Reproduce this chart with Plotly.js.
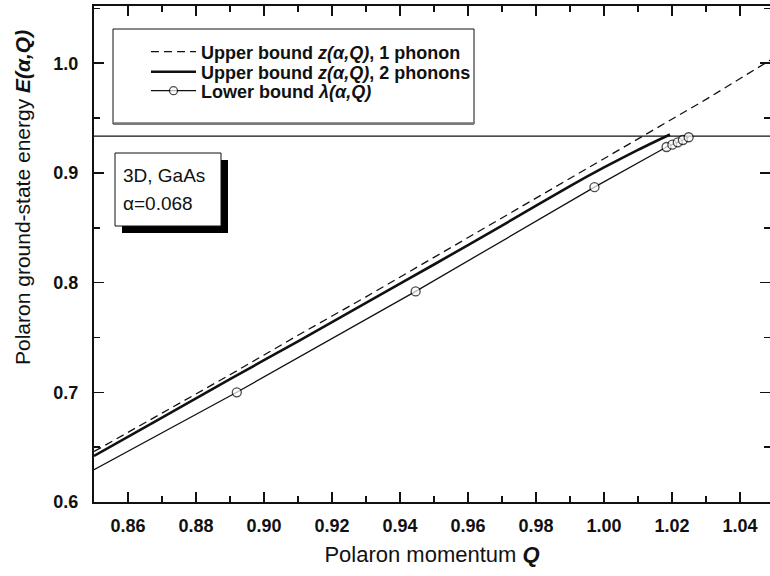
<!DOCTYPE html>
<html><head><meta charset="utf-8">
<script src="https://cdn.plot.ly/plotly-3.0.1.min.js"></script>
<style>html,body{margin:0;padding:0;background:#fff}</style>
</head><body>
<div id="chart" style="width:770px;height:576px"></div>
<script>
// Upper bound, 1 phonon (dashed)
const q1ph = [0.85, 0.87, 0.89, 0.91, 0.93, 0.95, 0.97, 0.99, 1.01, 1.03, 1.049];
const e1ph = [0.646, 0.681, 0.716, 0.752, 0.787, 0.823, 0.859, 0.895, 0.931, 0.967, 1.003];
// Upper bound, 2 phonons (thick solid)
const q2ph = [0.85, 0.87, 0.89, 0.91, 0.93, 0.95, 0.97, 0.99, 1.00, 1.01, 1.0194];
const e2ph = [0.642, 0.677, 0.712, 0.7465, 0.7815, 0.8165, 0.852, 0.888, 0.905, 0.921, 0.935];
// Lower bound (thin solid with open circles)
const qLow = [0.85, 0.892, 0.9446, 0.9972, 1.0184, 1.0201, 1.0217, 1.0232, 1.0249];
const eLow = [0.6295, 0.700, 0.792, 0.887, 0.9236, 0.9257, 0.9279, 0.9300, 0.9325];
const lowMarkerSize = [0, 9, 9, 9, 9, 9, 9, 9, 9];
// Threshold line
const qThr = [0.85, 1.06];
const eThr = [0.9335, 0.9335];

const xTickVals = [0.86, 0.88, 0.90, 0.92, 0.94, 0.96, 0.98, 1.00, 1.02, 1.04];
const yTickVals = [0.6, 0.7, 0.8, 0.9, 1.0];

const FONT = 'Liberation Sans, Arial, Helvetica, sans-serif';
const L = 94, T = 6, W = 676, H = 496;
const px = v => (v - L) / W;
const py = v => (T + H - v) / H;

const traces = [
  {x: qThr, y: eThr, mode: 'lines', line: {color: '#111', width: 1.2}, showlegend: false, hoverinfo: 'skip'},
  {x: q1ph, y: e1ph, mode: 'lines', name: '<b>Upper bound <i>z(α,Q)</i>, 1 phonon</b>',
   line: {color: '#111', width: 1.3, dash: '8px,5px'}, legend: 'legend'},
  {x: q2ph, y: e2ph, mode: 'lines', name: '<b>Upper bound <i>z(α,Q)</i>, 2 phonons</b>',
   line: {color: '#111', width: 2.6, shape: 'spline', smoothing: 0.6}, legend: 'legend2'},
  {x: qLow, y: eLow, mode: 'lines+markers', name: '<b>Lower bound <i>λ(α,Q)</i></b>',
   line: {color: '#111', width: 1.3},
   marker: {symbol: 'circle', size: lowMarkerSize, color: '#fff', line: {color: '#000', width: 1.3}},
   legend: 'legend3'}
];

const legendBase = (yc) => ({
  x: px(146), xanchor: 'left', y: py(yc), yanchor: 'middle',
  bgcolor: 'rgba(0,0,0,0)', borderwidth: 0, itemwidth: 45,
  font: {family: FONT, size: 18, color: '#111'}
});

const layout = {
  width: 770, height: 576,
  margin: {l: L, r: 0, t: T, b: 576 - T - H},
  paper_bgcolor: '#fff', plot_bgcolor: '#fff',
  font: {family: FONT, color: '#111'},
  xaxis: {
    range: [0.85, 0.85 + W / 3400], tickvals: xTickVals, tickformat: '.2f',
    ticks: 'inside', ticklen: 10, tickwidth: 1.5, tickcolor: '#111',
    minor: {dtick: 0.01, ticks: 'inside', ticklen: 6, tickwidth: 1.5, tickcolor: '#111'},
    showline: true, linewidth: 2, linecolor: '#111', mirror: 'ticks',
    showgrid: false, zeroline: false,
    tickfont: {family: FONT, size: 18, weight: 'bold', color: '#111'},
    ticklabelstandoff: 6,
    title: {text: 'Polaron momentum <b><i>Q</i></b>', font: {family: FONT, size: 22, color: '#111'}, standoff: 12}
  },
  yaxis: {
    range: [0.6, 0.6 + H / 1097], tickvals: yTickVals, tickformat: '.1f',
    ticks: 'inside', ticklen: 10, tickwidth: 1.5, tickcolor: '#111',
    minor: {dtick: 0.05, ticks: 'inside', ticklen: 6, tickwidth: 1.5, tickcolor: '#111'},
    showline: true, linewidth: 2, linecolor: '#111', mirror: 'ticks',
    showgrid: false, zeroline: false,
    tickfont: {family: FONT, size: 18, weight: 'bold', color: '#111'},
    ticklabelstandoff: 10
  },
  legend: legendBase(52),
  legend2: legendBase(72),
  legend3: legendBase(91),
  shapes: [
    // legend box
    {type: 'rect', xref: 'paper', yref: 'paper', x0: px(113), x1: px(474), y0: py(124), y1: py(29),
     line: {color: '#111', width: 1}, fillcolor: '#fff', layer: 'above'},
    {type: 'line', xref: 'paper', yref: 'paper', x0: px(114), x1: px(474), y0: py(123.5), y1: py(123.5),
     line: {color: '#777', width: 2.5}, layer: 'above'},
    // inset box shadow and box
    {type: 'rect', xref: 'paper', yref: 'paper', x0: px(122), x1: px(228), y0: py(233), y1: py(160),
     line: {width: 0}, fillcolor: '#000', layer: 'above'},
    {type: 'rect', xref: 'paper', yref: 'paper', x0: px(115), x1: px(221), y0: py(226), y1: py(153),
     line: {color: '#111', width: 1}, fillcolor: '#fff', layer: 'above'}
  ],
  annotations: [
    {xref: 'paper', yref: 'paper', x: px(121), y: py(175), xanchor: 'left', yanchor: 'middle', showarrow: false,
     text: '3D, GaAs', font: {family: FONT, size: 19, color: '#111'}},
    {xref: 'paper', yref: 'paper', x: px(121), y: py(203), xanchor: 'left', yanchor: 'middle', showarrow: false,
     text: 'α=0.068', font: {family: FONT, size: 19, color: '#111'}},
    {xref: 'paper', yref: 'paper', x: px(22), y: py(198), xanchor: 'center', yanchor: 'middle', showarrow: false,
     textangle: -90, text: 'Polaron ground-state energy <b><i>E(α,Q)</i></b>', font: {family: FONT, size: 21, color: '#111'}}
  ]
};

Plotly.newPlot('chart', traces, layout, {displayModeBar: false, staticPlot: true});
</script>
</body></html>
